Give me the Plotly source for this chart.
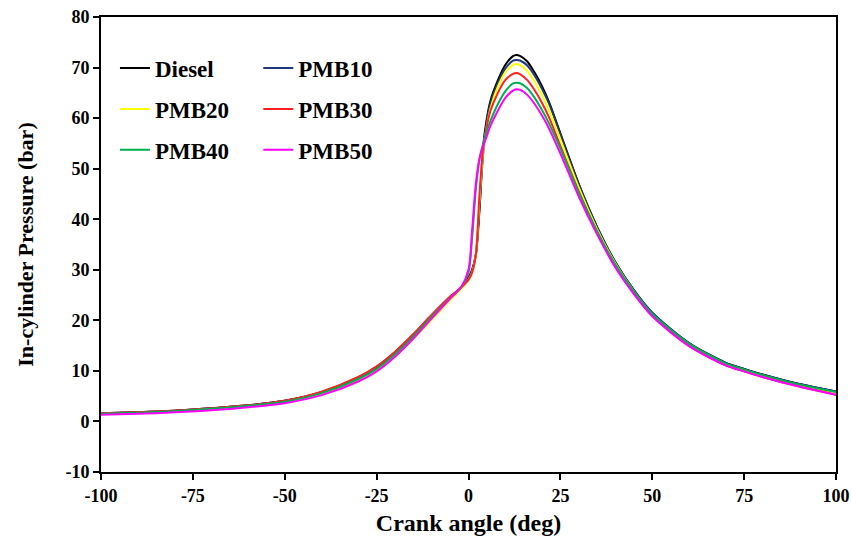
import plotly.graph_objects as go

# Crank angle (deg)
crank_angle = [-100, -90, -80, -70, -60, -50, -40, -30, -25, -20, -15, -10, -5, -2,
               0, 1, 2, 3, 4, 5, 6, 8, 10, 12, 13, 14, 16, 18, 20, 22, 25,
               30, 35, 40, 45, 50, 60, 70, 75, 80, 90, 100]

# In-cylinder pressure (bar) per fuel blend
diesel = [1.6, 1.8, 2.1, 2.6, 3.2, 4.1, 5.8, 8.7, 10.8, 13.7, 17.2, 21.0, 24.6, 26.5,
          28.5, 30.0, 33.0, 42.0, 54.5, 60.0, 63.5, 67.5, 70.5, 72.2, 72.5, 72.3, 71.2, 69.0, 66.3, 63.0, 57.0,
          47.0, 38.5, 31.5, 26.0, 21.5, 15.5, 11.6, 10.4, 9.3, 7.4, 5.9]
pmb10 = [1.6, 1.8, 2.1, 2.6, 3.2, 4.1, 5.8, 8.6, 10.7, 13.6, 17.1, 20.9, 24.5, 26.4,
         28.3, 30.0, 33.0, 42.5, 53.0, 59.5, 63.0, 67.0, 69.8, 71.3, 71.5, 71.4, 70.4, 68.4, 65.8, 62.7, 56.8,
         46.9, 38.4, 31.4, 26.0, 21.5, 15.5, 11.6, 10.4, 9.3, 7.4, 5.9]
pmb20 = [1.5, 1.7, 2.0, 2.4, 3.0, 3.8, 5.4, 8.2, 10.1, 12.9, 16.3, 20.1, 24.0, 26.2,
         28.0, 29.5, 33.0, 44.0, 53.5, 58.5, 62.0, 66.2, 69.0, 70.5, 70.7, 70.5, 69.3, 67.2, 64.6, 61.4, 55.8,
         46.3, 38.0, 31.2, 25.7, 21.2, 15.3, 11.4, 10.2, 9.1, 7.2, 5.7]
pmb30 = [1.6, 1.8, 2.1, 2.6, 3.2, 4.1, 5.9, 8.8, 10.9, 13.8, 17.3, 21.1, 24.7, 26.5,
         28.0, 29.5, 33.0, 45.0, 54.0, 58.5, 61.5, 65.0, 67.5, 68.7, 68.9, 68.7, 67.5, 65.5, 63.0, 60.0, 54.5,
         45.5, 37.5, 30.8, 25.4, 21.0, 15.0, 11.1, 9.9, 8.8, 6.9, 5.3]
pmb40 = [1.5, 1.7, 2.0, 2.5, 3.1, 3.9, 5.6, 8.4, 10.4, 13.3, 16.8, 20.7, 24.4, 26.5,
         29.5, 36.5, 46.0, 52.0, 55.0, 57.5, 59.5, 62.8, 65.3, 66.8, 67.0, 66.9, 65.9, 64.0, 61.6, 58.8, 54.0,
         45.3, 37.6, 31.0, 25.7, 21.3, 15.4, 11.5, 10.3, 9.2, 7.3, 5.8]
pmb50 = [1.3, 1.5, 1.8, 2.2, 2.8, 3.6, 5.2, 7.9, 9.9, 12.8, 16.4, 20.4, 24.3, 26.6,
         30.0, 38.0, 47.0, 52.0, 54.5, 56.5, 58.5, 61.5, 64.0, 65.4, 65.7, 65.6, 64.6, 62.8, 60.5, 57.8, 53.0,
         44.5, 37.0, 30.4, 25.2, 20.8, 14.9, 11.1, 9.9, 8.8, 6.9, 5.3]

series_names = ["Diesel", "PMB10", "PMB20", "PMB30", "PMB40", "PMB50"]
series_values = [diesel, pmb10, pmb20, pmb30, pmb40, pmb50]
series_colors = ["#000000", "#1f3a78", "#ffff00", "#ff2020", "#00b050", "#ff00ff"]
# two legend columns: left column holds Diesel/PMB20/PMB40, right holds PMB10/PMB30/PMB50
legend_ids = ["legend", "legend2", "legend", "legend2", "legend", "legend2"]

x_ticks = [-100, -75, -50, -25, 0, 25, 50, 75, 100]
y_ticks = [-10, 0, 10, 20, 30, 40, 50, 60, 70, 80]

FONT = "Liberation Serif"

fig = go.Figure()
for name, vals, color, lg in zip(series_names, series_values, series_colors, legend_ids):
    fig.add_trace(go.Scatter(
        x=crank_angle, y=vals, name=name, mode="lines",
        line=dict(color=color, width=2, shape="spline", smoothing=0.8),
        legend=lg, legendgroup=name,
    ))

legend_common = dict(
    bgcolor="rgba(0,0,0,0)", borderwidth=0,
    font=dict(family=FONT, size=23, color="#000000", weight="bold"),
    traceorder="grouped", tracegroupgap=8, itemwidth=30,
    xanchor="left", yanchor="top",
)

fig.update_layout(
    width=852, height=542,
    margin=dict(l=101, r=16, t=17, b=70),
    paper_bgcolor="white", plot_bgcolor="white",
    font=dict(family=FONT, color="#000000"),
    legend=dict(x=0.019, y=0.935, **legend_common),
    legend2=dict(x=0.214, y=0.935, **legend_common),
    xaxis=dict(
        range=[-100, 100], tickvals=x_ticks, ticktext=[str(v) for v in x_ticks],
        showgrid=False, zeroline=False, automargin=False,
        showline=True, linecolor="#000000", linewidth=2, mirror=True,
        ticks="outside", ticklen=6, tickwidth=2, tickcolor="#000000",
        tickfont=dict(family=FONT, size=18, weight="bold"),
        title=dict(text="Crank angle (deg)", font=dict(family=FONT, size=24, weight="bold"), standoff=10),
    ),
    yaxis=dict(
        range=[-10, 80], tickvals=y_ticks, ticktext=[str(v) for v in y_ticks],
        showgrid=False, zeroline=False, automargin=False,
        showline=True, linecolor="#000000", linewidth=2, mirror=True,
        ticks="outside", ticklen=6, tickwidth=2, tickcolor="#000000",
        tickfont=dict(family=FONT, size=18, weight="bold"),
        title=dict(text="In-cylinder Pressure (bar)", font=dict(family=FONT, size=22, weight="bold"), standoff=26),
    ),
)

fig.write_html("out.html")
